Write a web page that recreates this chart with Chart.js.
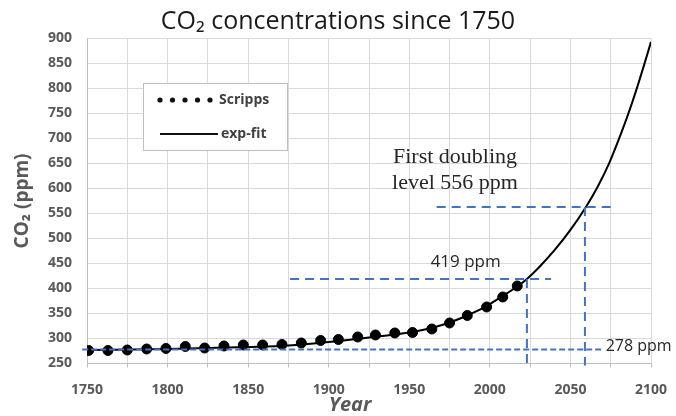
<!DOCTYPE html>
<html>
<head>
<meta charset="utf-8">
<script src="https://cdn.jsdelivr.net/npm/chart.js@4/dist/chart.umd.min.js"></script>
<style>
  body { margin: 0; background: #fff; }
  #wrap { width: 676px; height: 416px; position: relative; }
</style>
</head>
<body>
<div id="wrap"><canvas id="co2Chart"></canvas></div>
<script>
// Scripps points
const scrippsYears = [1751, 1763, 1775, 1787, 1799, 1811, 1823, 1835, 1847, 1859, 1871, 1883,
    1895, 1906, 1918, 1929, 1941, 1952, 1964, 1975, 1986, 1998, 2008, 2017];
const scrippsPpm = [276, 276, 277, 279, 280, 284, 281, 285, 287, 287, 288, 291,
    296, 298, 303, 307, 311, 312, 319, 331, 346, 363, 383, 405];

// exp-fit curve, sampled along the drawn line
const fitYears = [1750, 1800, 1850, 1875, 1900, 1925, 1950, 1965, 1975, 1986, 1997, 2007,
    2017, 2023, 2031, 2040, 2050, 2060, 2067, 2074, 2080, 2086, 2091, 2096, 2100];
const fitPpm = [277, 279, 283, 286, 293, 302, 312, 322, 332, 346, 363, 383,
    404, 419, 444, 476, 517, 565, 604, 650, 698, 750, 798, 850, 893];

// reference levels
const preIndustrial = 278;
const nowYear = 2023, nowPpm = 419;
const doublingYear = 2059, doublingPpm = 563;
const baseSpan = [1747, 2070];
const nowSpan = [1876, 2038];
const doublingSpan = [1967, 2075];
const axisFloor = 248;

const yTicks = { min: 250, max: 900, step: 50 };
const xTicks = { min: 1750, max: 2100, step: 25 };

const gray = '#595959';
const blue = '#4472c4';
const sans = '"Open Sans"';

function pts(xs, ys) {
    return xs.map((x, i) => ({ x: x, y: ys[i] }));
}

function refLine(points, dash) {
    return {
        type: 'line',
        data: points,
        borderColor: blue,
        borderWidth: 2,
        borderDash: dash,
        pointRadius: 0,
        fill: false,
        clip: false,
        order: 0,
    };
}

const notes = {
    id: 'notes',
    afterDraw(chart) {
        const ctx = chart.ctx;
        const x = chart.scales.x, y = chart.scales.y;
        const area = chart.chartArea;
        ctx.save();

        // annotations
        ctx.fillStyle = '#262626';
        ctx.textBaseline = 'middle';
        ctx.font = '17px ' + sans;
        ctx.textAlign = 'center';
        ctx.fillText(nowPpm + ' ppm', x.getPixelForValue(1985), y.getPixelForValue(nowPpm) - 17);
        ctx.textAlign = 'left';
        ctx.font = '16px ' + sans;
        ctx.fillText(preIndustrial + ' ppm', x.getPixelForValue(baseSpan[1]) + 3, y.getPixelForValue(preIndustrial) - 3);

        ctx.font = '22px "Liberation Serif"';
        ctx.textAlign = 'center';
        ctx.fillText('First doubling', 455, 157);
        ctx.fillText('level 556 ppm', 455, 183);

        // x axis title
        ctx.fillStyle = gray;
        ctx.font = 'italic bold 20px ' + sans;
        ctx.fillText('Year', area.left + (area.right - area.left) / 2 - 19, 405);

        // legend
        const bx = 143, by = 83, bw = 144, bh = 67;
        ctx.fillStyle = '#fff';
        ctx.fillRect(bx, by, bw, bh);
        ctx.strokeStyle = '#bfbfbf';
        ctx.lineWidth = 1;
        ctx.strokeRect(bx + 0.5, by + 0.5, bw, bh);

        ctx.fillStyle = '#111';
        for (let i = 0; i < 5; i++) {
            ctx.beginPath();
            ctx.arc(160 + i * 12.5, 100, 2.6, 0, Math.PI * 2);
            ctx.fill();
        }
        ctx.strokeStyle = '#111';
        ctx.lineWidth = 1.8;
        ctx.beginPath();
        ctx.moveTo(160, 134);
        ctx.lineTo(218, 134);
        ctx.stroke();

        ctx.fillStyle = '#404040';
        ctx.font = 'bold 14px ' + sans;
        ctx.textAlign = 'left';
        ctx.fillText(chart.data.datasets[0].label, 219, 100);
        ctx.fillText(chart.data.datasets[1].label, 221, 134);
        ctx.restore();
    }
};

new Chart(document.getElementById('co2Chart'), {
    type: 'scatter',
    data: {
        datasets: [
            {
                label: 'Scripps',
                data: pts(scrippsYears, scrippsPpm),
                backgroundColor: '#000',
                borderColor: '#000',
                pointRadius: 5,
                showLine: false,
                order: 1,
            },
            {
                type: 'line',
                label: 'exp-fit',
                data: pts(fitYears, fitPpm),
                borderColor: '#000',
                borderWidth: 2,
                pointRadius: 0,
                fill: false,
                cubicInterpolationMode: 'monotone',
                order: 2,
            },
            refLine(pts(baseSpan, [preIndustrial, preIndustrial]), [6, 3]),
            refLine(pts(nowSpan, [nowPpm, nowPpm]), [9, 6]),
            refLine(pts([nowYear, nowYear], [nowPpm, axisFloor]), [9, 6]),
            refLine(pts(doublingSpan, [doublingPpm, doublingPpm]), [9, 6]),
            refLine(pts([doublingYear, doublingYear], [doublingPpm, axisFloor - 2]), [9, 6]),
        ],
    },
    options: {
        responsive: true,
        maintainAspectRatio: false,
        animation: false,
        layout: { padding: 0 },
        plugins: {
            legend: { display: false },
            tooltip: { enabled: false },
            title: {
                display: true,
                text: 'CO\u2082 concentrations since 1750',
                color: '#1a1a1a',
                font: { family: 'Open Sans', size: 25, weight: 'normal' },
                padding: { top: 7, bottom: 1.4 },
            },
        },
        scales: {
            x: {
                type: 'linear',
                min: xTicks.min,
                max: xTicks.max,
                afterFit: s => { s.height = 52.5; s.paddingRight = 25; },
                grid: { color: '#d9d9d9', tickLength: 4, tickColor: '#bfbfbf' },
                border: { color: '#bfbfbf' },
                ticks: {
                    stepSize: xTicks.step,
                    autoSkip: false,
                    maxRotation: 0,
                    padding: 14,
                    color: gray,
                    font: { family: 'Open Sans', size: 14, weight: 'bold' },
                    callback: v => (v % 50 === 0 ? String(v) : ''),
                },
            },
            y: {
                min: yTicks.min,
                max: yTicks.max,
                afterFit: s => { s.width = 87; },
                grid: { color: '#d9d9d9', drawTicks: false },
                border: { color: '#bfbfbf' },
                ticks: {
                    stepSize: yTicks.step,
                    padding: 15,
                    color: gray,
                    font: { family: 'Open Sans', size: 14, weight: 'bold' },
                },
                title: {
                    display: true,
                    text: 'CO\u2082 (ppm)',
                    color: gray,
                    font: { family: 'Open Sans', size: 19, weight: 'bold' },
                    padding: { top: 11, bottom: 0 },
                },
            },
        },
    },
    plugins: [notes],
});
</script>
</body>
</html>
